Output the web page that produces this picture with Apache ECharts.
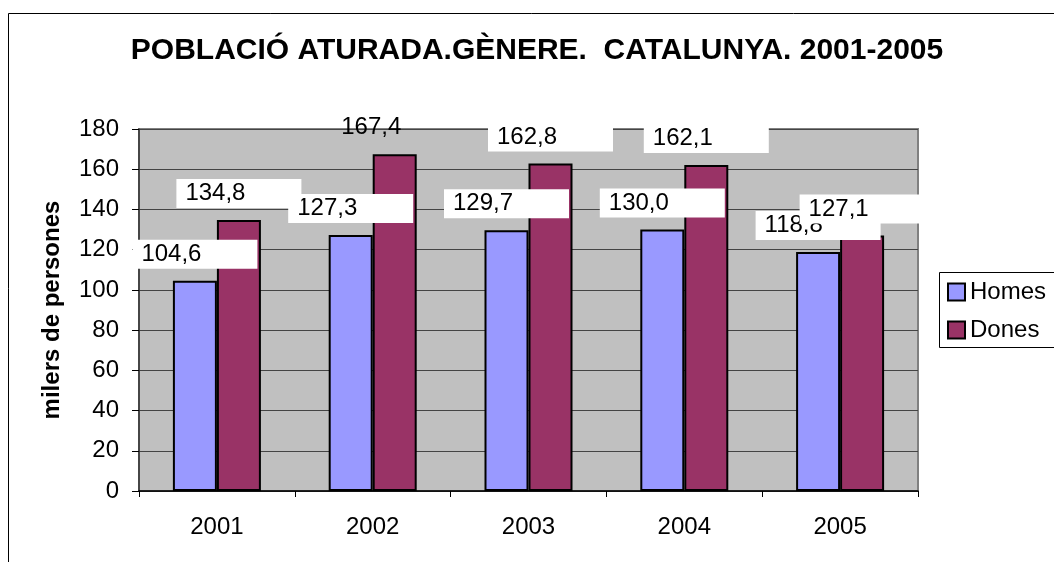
<!DOCTYPE html>
<html>
<head>
<meta charset="utf-8">
<script src="https://cdn.jsdelivr.net/npm/echarts@6/dist/echarts.min.js"></script>
<style>
html,body{margin:0;padding:0;background:#fff;}
#chart{width:1054px;height:562px;}
</style>
</head>
<body>
<div id="chart"></div>
<script>
const years = ['2001', '2002', '2003', '2004', '2005'];
const homes = [104.6, 127.3, 129.7, 130.0, 118.8];
const dones = [134.8, 167.4, 162.8, 162.1, 127.1];
const seriesNames = ['Homes', 'Dones'];
const titleText = 'POBLACIÓ ATURADA.GÈNERE.  CATALUNYA. 2001-2005';
const yAxisName = 'milers de persones';
const yMin = 0, yMax = 180, yStep = 20;

const FONT = '"Liberation Sans", Arial, sans-serif';
const fmt = v => v.toFixed(1).replace('.', ',');

function makeLabel() {
  return {
    show: true,
    position: 'top',
    distance: 12,
    formatter: p => '{a|' + fmt(p.value) + '}',
    backgroundColor: '#fff',
    padding: [0, 0, 0, 9],
    rich: {
      a: { width: 116, height: 29, lineHeight: 29, align: 'left', fontSize: 24, fontFamily: FONT, color: '#000' }
    }
  };
}

const donesData = dones.map(v => v > yMax - 15
  ? { value: v, label: { backgroundColor: 'transparent' } }
  : v);

const chart = echarts.init(document.getElementById('chart'), null, { renderer: 'canvas' });
chart.setOption({
  animation: false,
  backgroundColor: '#fff',
  textStyle: { fontFamily: FONT },
  title: {
    text: titleText,
    left: 537,
    top: 36,
    padding: 0,
    textAlign: 'center',
    textStyle: { fontSize: 30, fontWeight: 'bold', color: '#000', fontFamily: FONT }
  },
  graphic: [{
    type: 'rect',
    shape: { x: 8.5, y: 13.5, width: 1200, height: 700 },
    style: { fill: 'none', stroke: '#000', lineWidth: 1 },
    silent: true,
    z: -1
  }, {
    type: 'rect',
    shape: { x: 939.5, y: 272.5, width: 200, height: 75 },
    style: { fill: '#fff', stroke: '#000', lineWidth: 1 },
    silent: true,
    z: 0
  }],
  legend: {
    orient: 'vertical',
    left: 939,
    top: 272,
    padding: [8, 0, 6, 8],
    itemGap: 14,
    itemWidth: 17,
    itemHeight: 17,
    icon: 'rect',
    z: 10,
    textStyle: { fontSize: 24, color: '#000', fontFamily: FONT },
    data: seriesNames
  },
  grid: {
    left: 139, right: 136, top: 129, bottom: 71,
    show: true,
    backgroundColor: '#c0c0c0',
    borderColor: '#808080',
    borderWidth: 2
  },
  xAxis: {
    type: 'category',
    data: years,
    axisLine: { lineStyle: { color: '#000', width: 1.5 } },
    axisTick: { show: true, alignWithLabel: false, length: 6, lineStyle: { color: '#000' } },
    axisLabel: { fontSize: 24, color: '#000', margin: 24, fontFamily: FONT },
    splitLine: { show: false }
  },
  yAxis: {
    type: 'value',
    min: yMin, max: yMax, interval: yStep,
    name: yAxisName,
    nameLocation: 'middle',
    nameRotate: 90,
    nameGap: 75,
    nameTextStyle: { fontSize: 24, fontWeight: 'bold', color: '#000', fontFamily: FONT },
    axisLine: { show: true, lineStyle: { color: '#333', width: 1.5 } },
    axisTick: { show: true, length: 7, lineStyle: { color: '#000' } },
    axisLabel: { fontSize: 24, color: '#000', margin: 20, fontFamily: FONT },
    splitLine: { show: true, lineStyle: { color: '#444', width: 1 } }
  },
  series: [
    {
      name: seriesNames[0], type: 'bar', data: homes,
      barWidth: 44, barGap: '0%',
      itemStyle: { color: '#9999ff', borderColor: '#000', borderWidth: 2 },
      label: makeLabel()
    },
    {
      name: seriesNames[1], type: 'bar', data: donesData,
      barWidth: 44, barGap: '0%',
      itemStyle: { color: '#993366', borderColor: '#000', borderWidth: 2 },
      label: makeLabel()
    }
  ]
});
</script>
</body>
</html>
